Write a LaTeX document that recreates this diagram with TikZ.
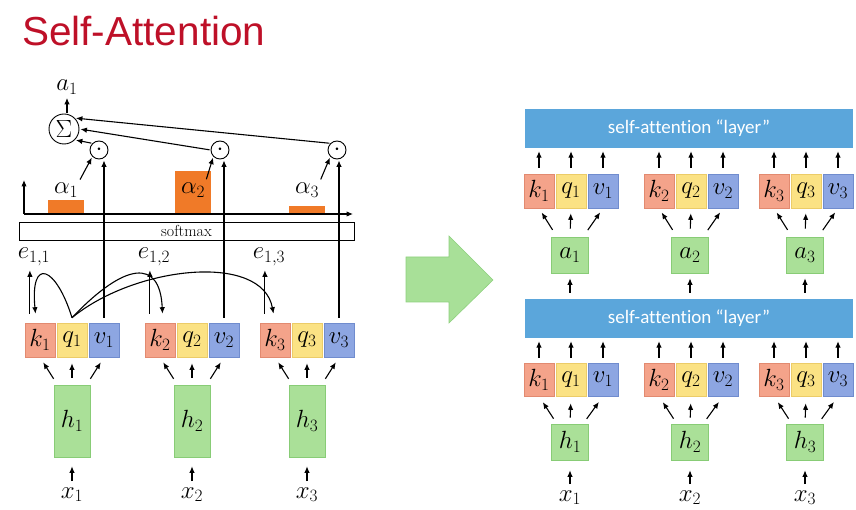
\documentclass[tikz,border=0pt]{standalone}
\usepackage{fontspec}
\setsansfont{Carlito}[Ligatures=NoCommon]
\newfontfamily\titlefont{Liberation Sans}
\usetikzlibrary{arrows.meta,calc,positioning}

\definecolor{titlered}{RGB}{190,16,40}
\definecolor{kfill}{RGB}{244,163,138}
\definecolor{kdraw}{RGB}{226,138,112}
\definecolor{qfill}{RGB}{251,226,132}
\definecolor{qdraw}{RGB}{236,204,104}
\definecolor{vfill}{RGB}{141,166,226}
\definecolor{vdraw}{RGB}{112,140,206}
\definecolor{gfill}{RGB}{170,224,152}
\definecolor{gdraw}{RGB}{136,204,118}
\definecolor{layerblue}{RGB}{91,166,219}
\definecolor{barorange}{RGB}{240,122,40}
\definecolor{arrowgreen}{RGB}{168,224,152}
\definecolor{arrowedge}{RGB}{142,208,126}

\newcommand{\lblsize}{\fontsize{23}{26}\selectfont}

\begin{document}
\begin{tikzpicture}[x=1pt,y=1pt,yscale=-1,
  arr/.style={-{Latex[length=6.5pt,width=5.5pt]},line width=1.1pt},
  lbl/.style={inner sep=0pt,font=\lblsize},
  cell/.style={draw,line width=0.6pt,minimum width=30pt,minimum height=34pt,inner sep=0pt,font=\lblsize},
  kbox/.style={cell,fill=kfill,draw=kdraw},
  qbox/.style={cell,fill=qfill,draw=qdraw},
  vbox/.style={cell,fill=vfill,draw=vdraw},
  gbox/.style={cell,fill=gfill,draw=gdraw,minimum width=37pt,minimum height=36pt},
  hbox/.style={gbox,minimum width=36pt,minimum height=72pt},
  layer/.style={fill=layerblue,minimum width=328pt,minimum height=39pt,inner sep=0pt,
    text=white,font=\sffamily\fontsize{19}{22}\selectfont},
  dotnode/.style={circle,draw,line width=0.9pt,minimum size=18pt,inner sep=0pt,font=\lblsize},
  bar/.style={fill=barorange}]
\useasboundingbox (0,0) rectangle (856,510);

% Title
\node[anchor=base west,inner sep=0pt,text=titlered,
  font=\titlefont\fontsize{40.5}{44}\selectfont] (title) at (22,46) {Self-Attention};

%% left: one self-attention step
\foreach \i/\gx in {1/72,2/192,3/307}{
  \node[kbox] (kL\i) at (\gx-32,340) {$k_{\i}$};
  \node[qbox] (qL\i) at (\gx,340) {$q_{\i}$};
  \node[vbox] (vL\i) at (\gx+32,340) {$v_{\i}$};
  \node[hbox] (hL\i) at (\gx,421) {$h_{\i}$};
  \node[lbl,anchor=base] (xL\i) at (\gx,498) {$x_{\i}$};
  \draw[arr,shorten <=6pt,shorten >=9pt] (xL\i.north) -- (hL\i.south);
  \draw[arr,shorten <=7pt,shorten >=6pt] ($(hL\i.north west)!0.1!(hL\i.north east)$) -- (kL\i.south);
  \draw[arr,shorten <=7pt,shorten >=6pt] (hL\i.north) -- (qL\i.south);
  \draw[arr,shorten <=7pt,shorten >=6pt] ($(hL\i.north east)!0.1!(hL\i.north west)$) -- (vL\i.south);
  % scores e_{1,i}
  \node[lbl,anchor=base] (eL\i) at (\gx-38,259) {$e_{1,\i}$};
  \coordinate (eb\i) at ($(kL\i.north west)!0.17!(kL\i.north east)$);
  \draw[arr,shorten <=9pt,shorten >=4pt] (eb\i) -- (eb\i |- eL\i.south);
}

% softmax and the weights
\node[draw,line width=0.8pt,minimum width=335pt,minimum height=18pt,inner sep=0pt,
  font=\fontsize{16}{18}\selectfont] (softmax) at (186.5,231) {softmax};
\coordinate (origin) at (24,214);
\coordinate (xend) at (353,214);
\coordinate (yend) at (24,180);
\foreach \i/\dx/\bx/\bh in {1/99/66/14,2/220/193/43,3/337/307/8}{
  \fill[bar] (\bx-18,214) rectangle (\bx+18,214-\bh);
  \node[lbl,anchor=base] (alphaL\i) at (\bx,194) {$\alpha_{\i}$};
  \node[dotnode] (dotL\i) at (\dx,150) {$\cdot$};
  \draw[arr,shorten <=5pt,shorten >=1pt] (vL\i.north) -- (vL\i.north |- dotL\i.south);
  \draw[arr,shorten <=4pt,shorten >=1pt] (alphaL\i.north east) -- (dotL\i.south west);
}
\draw[arr] (origin) -- (xend);
\draw[arr] (origin) -- (yend);

% weighted sum
\node[dotnode,minimum size=30pt] (sigma) at (64,129) {$\Sigma$};
\node[lbl,anchor=base] (aL) at (67,91) {$a_{1}$};
\draw[arr,shorten <=1pt,shorten >=3pt] (sigma.north -| aL.south) -- (aL.south);
\draw[arr,shorten <=1pt,shorten >=1pt] (dotL1.north west) -- (sigma.south east);
\draw[arr,shorten <=1pt,shorten >=1pt] (dotL2.west) -- (sigma.east);
\draw[arr,shorten <=1pt,shorten >=1pt] (dotL3.north west) -- (sigma.north east);

% query q_1 against every key
\coordinate (qtop) at ($(qL1.north)+(0,-5)$);
\coordinate (ktop1) at ($(kL1.north)+(-4.5,-9)$);
\coordinate (ktop2) at ($(kL2.north)+(2.5,-9)$);
\coordinate (ktop3) at ($(kL3.north)+(-1.5,-9)$);
\draw[arr] (qtop) .. controls (56,266) and (30,256) .. (ktop1);
\draw[arr] (qtop) .. controls (125,262) and (160,258) .. (ktop2);
\draw[arr] (qtop) .. controls (135,266) and (262,252) .. (ktop3);

% big arrow
\draw[fill=arrowgreen,draw=arrowedge,line width=0.6pt] (406,257) -- (449,257) -- (449,236)
  -- (493,280) -- (449,323) -- (449,302) -- (406,302) -- cycle;

%% right: two stacked layers
\node[layer] (layerU) at (689,128.5) {self-attention “layer”};
\node[layer] (layerL) at (689,318.5) {self-attention “layer”};
\foreach \i/\gx in {1/571,2/691,3/806}{
  \node[kbox] (kU\i) at (\gx-32,191) {$k_{\i}$};
  \node[qbox] (qU\i) at (\gx,191) {$q_{\i}$};
  \node[vbox] (vU\i) at (\gx+32,191) {$v_{\i}$};
  \node[gbox] (aR\i) at (\gx-1,255) {$a_{\i}$};
  \node[kbox,minimum height=33pt] (kD\i) at (\gx-32,379.5) {$k_{\i}$};
  \node[qbox,minimum height=33pt] (qD\i) at (\gx,379.5) {$q_{\i}$};
  \node[vbox,minimum height=33pt] (vD\i) at (\gx+32,379.5) {$v_{\i}$};
  \node[gbox] (hR\i) at (\gx-1,442) {$h_{\i}$};
  \node[lbl,anchor=base] (xR\i) at (\gx-1,501) {$x_{\i}$};
  \foreach \c in {k,q,v}{
    \draw[arr,shorten <=6pt,shorten >=3pt] (\c U\i.north) -- (\c U\i.north |- layerU.south);
    \draw[arr,shorten <=5pt,shorten >=3pt] (\c D\i.north) -- (\c D\i.north |- layerL.south);
  }
  \draw[arr,shorten <=6pt,shorten >=5pt] (aR\i.south |- layerL.north) -- (aR\i.south);
  \draw[arr,shorten <=8pt,shorten >=5pt] ($(aR\i.north west)!0.15!(aR\i.north east)$) -- (kU\i.south);
  \draw[arr,shorten <=8pt,shorten >=5pt] (aR\i.north) -- (qU\i.south);
  \draw[arr,shorten <=8pt,shorten >=5pt] ($(aR\i.north east)!0.15!(aR\i.north west)$) -- (vU\i.south);
  \draw[arr,shorten <=6pt,shorten >=7pt] ($(hR\i.north west)!0.15!(hR\i.north east)$) -- (kD\i.south);
  \draw[arr,shorten <=6pt,shorten >=7pt] (hR\i.north) -- (qD\i.south);
  \draw[arr,shorten <=6pt,shorten >=7pt] ($(hR\i.north east)!0.15!(hR\i.north west)$) -- (vD\i.south);
  \draw[arr,shorten <=6pt,shorten >=10pt] (xR\i.north) -- (hR\i.south);
}
\end{tikzpicture}
\end{document}
